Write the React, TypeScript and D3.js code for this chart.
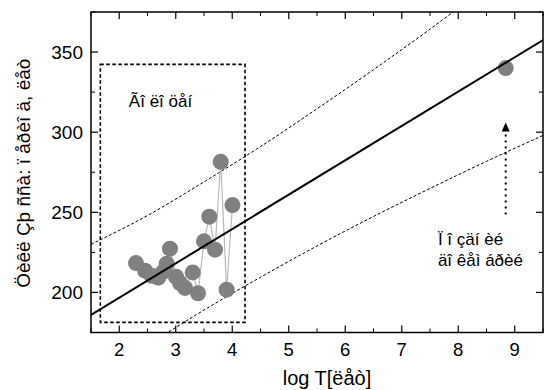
import React from "react";
import * as d3 from "d3";

// ---- data ----
const xTicks = [2, 3, 4, 5, 6, 7, 8, 9];
const yTicks = [200, 250, 300, 350];
const xMinorTicks = [1.5, 2.5, 3.5, 4.5, 5.5, 6.5, 7.5, 8.5, 9.5];
const yMinorTicks = [175, 225, 275, 325, 375];

const clusterX = [2.296, 2.456, 2.574, 2.69, 2.78, 2.84, 2.898, 3.004, 3.075, 3.164, 3.3, 3.394, 3.5, 3.594, 3.695, 3.796, 3.9, 4.004];
const clusterY = [218.3, 213.6, 210.4, 209.2, 212.9, 217.9, 227.3, 209.8, 205.9, 202.8, 212.5, 199.5, 231.9, 247.3, 226.7, 281.5, 201.7, 254.5];

const outlierX = [8.84];
const outlierY = [340];

const fitX = [1.5, 9.5];
const fitY = [186, 357.5];

const upperBandX = [1.5, 2.5, 3.5, 4.5, 5.5, 6.5, 7.5, 8.0];
const upperBandY = [230, 248, 269, 291, 314.6, 339, 364.3, 377.4];
const lowerBandX = [2.5, 3.5, 4.5, 5.5, 6.5, 7.5, 8.5, 9.5];
const lowerBandY = [167, 189, 209.5, 229, 247.4, 264.9, 281.8, 298];

const boxX = [1.665, 4.226];
const boxY = [181.3, 342.3];

const arrowX = 8.84;
const arrowFromY = 248.6;
const arrowToY = 306;

const xTitle = "log T[ëåò]";
const yTitle = "Öèêë Çþ ññà: ï åðèî ä, ëåò";
const boxLabel = "Ãî ëî öåí";
const noteLines = ["Ï î çäí èé", "äî êåì  áðèé"];

const W = 553;
const H = 390;
const M = { left: 91, right: 10, top: 12, bottom: 57.5 };
const FONT = "'Liberation Sans', Arial, sans-serif";

export default function App() {
  const x = d3.scaleLinear().domain([1.5, 9.5]).range([M.left, W - M.right]);
  const y = d3.scaleLinear().domain([175, 375]).range([H - M.bottom, M.top]);
  const x0 = M.left, x1 = W - M.right, y0 = H - M.bottom, y1 = M.top;

  const line = d3.line<[number, number]>().x((d) => x(d[0])).y((d) => y(d[1]));
  const smooth = d3
    .line<[number, number]>()
    .x((d) => x(d[0]))
    .y((d) => y(d[1]))
    .curve(d3.curveMonotoneX);

  const cluster = clusterX.map((v, i) => [v, clusterY[i]] as [number, number]);
  const fit = fitX.map((v, i) => [v, fitY[i]] as [number, number]);
  const upper = upperBandX.map((v, i) => [v, upperBandY[i]] as [number, number]);
  const lower = lowerBandX.map((v, i) => [v, lowerBandY[i]] as [number, number]);

  const major = 7;
  const minor = 4;

  return (
    <svg
      width={W}
      height={H}
      style={{ position: "absolute", left: 0, top: 0, background: "#fff" }}
      fontFamily={FONT}
    >
      <defs>
        <clipPath id="plot">
          <rect x={x0} y={y1} width={x1 - x0} height={y0 - y1} />
        </clipPath>
      </defs>

      <g clipPath="url(#plot)">
        {/* confidence bands */}
        <path d={smooth(upper) || ""} fill="none" stroke="#000" strokeWidth={1} strokeDasharray="3,2" />
        <path d={smooth(lower) || ""} fill="none" stroke="#000" strokeWidth={1} strokeDasharray="3,2" />
        {/* dashed box */}
        <rect
          x={x(boxX[0])}
          y={y(boxY[1])}
          width={x(boxX[1]) - x(boxX[0])}
          height={y(boxY[0]) - y(boxY[1])}
          fill="none"
          stroke="#000"
          strokeWidth={1.6}
          strokeDasharray="3.5,2.5"
        />
        {/* connecting line */}
        <path d={line(cluster) || ""} fill="none" stroke="#b8b8b8" strokeWidth={1.2} />
        {/* points */}
        {cluster.map((d, i) => (
          <circle key={i} cx={x(d[0])} cy={y(d[1])} r={8} fill="#808080" />
        ))}
        {outlierX.map((v, i) => (
          <circle key={"o" + i} cx={x(v)} cy={y(outlierY[i])} r={8} fill="#808080" />
        ))}
        {/* fit line */}
        <path d={line(fit) || ""} fill="none" stroke="#000" strokeWidth={2} />
        {/* arrow */}
        <line
          x1={x(arrowX)}
          x2={x(arrowX)}
          y1={y(arrowFromY)}
          y2={y(arrowToY) + 9}
          stroke="#000"
          strokeWidth={2}
          strokeDasharray="2,4"
        />
        <path
          d={`M${x(arrowX)},${y(arrowToY)} L${x(arrowX) - 4},${y(arrowToY) + 9} L${x(arrowX) + 4},${y(arrowToY) + 9} Z`}
          fill="#000"
        />
      </g>

      {/* frame */}
      <rect x={x0} y={y1} width={x1 - x0} height={y0 - y1} fill="none" stroke="#000" strokeWidth={1.5} />

      {/* ticks */}
      {xTicks.map((t) => (
        <g key={"xt" + t}>
          <line x1={x(t)} x2={x(t)} y1={y0} y2={y0 - major} stroke="#000" strokeWidth={1.2} />
          <line x1={x(t)} x2={x(t)} y1={y1} y2={y1 + major} stroke="#000" strokeWidth={1.2} />
          <text x={x(t)} y={y0 + 23.5} textAnchor="middle" fontSize={18.5} fill="#000">
            {t}
          </text>
        </g>
      ))}
      {xMinorTicks.map((t) => (
        <g key={"xm" + t}>
          <line x1={x(t)} x2={x(t)} y1={y0} y2={y0 - minor} stroke="#000" strokeWidth={1} />
          <line x1={x(t)} x2={x(t)} y1={y1} y2={y1 + minor} stroke="#000" strokeWidth={1} />
        </g>
      ))}
      {yTicks.map((t) => (
        <g key={"yt" + t}>
          <line x1={x0} x2={x0 + major} y1={y(t)} y2={y(t)} stroke="#000" strokeWidth={1.2} />
          <line x1={x1} x2={x1 - major} y1={y(t)} y2={y(t)} stroke="#000" strokeWidth={1.2} />
          <text x={x0 - 8} y={y(t)} dy="0.35em" textAnchor="end" fontSize={19} fill="#000">
            {t}
          </text>
        </g>
      ))}
      {yMinorTicks.map((t) => (
        <g key={"ym" + t}>
          <line x1={x0} x2={x0 + minor} y1={y(t)} y2={y(t)} stroke="#000" strokeWidth={1} />
          <line x1={x1} x2={x1 - minor} y1={y(t)} y2={y(t)} stroke="#000" strokeWidth={1} />
        </g>
      ))}

      {/* annotations */}
      <text x={x(2.17)} y={y(316)} fontSize={17} fill="#000">
        {boxLabel}
      </text>
      {noteLines.map((s, i) => (
        <text key={i} x={x(7.64)} y={y(229.8) + i * 21} fontSize={17} fill="#000">
          {s}
        </text>
      ))}

      {/* axis titles */}
      <text x={327} y={385} textAnchor="middle" fontSize={20} fill="#000">
        {xTitle}
      </text>
      <text
        transform={`translate(30,${(y0 + y1) / 2 + 1}) rotate(-90)`}
        textAnchor="middle"
        fontSize={19}
        fill="#000"
      >
        {yTitle}
      </text>
    </svg>
  );
}
